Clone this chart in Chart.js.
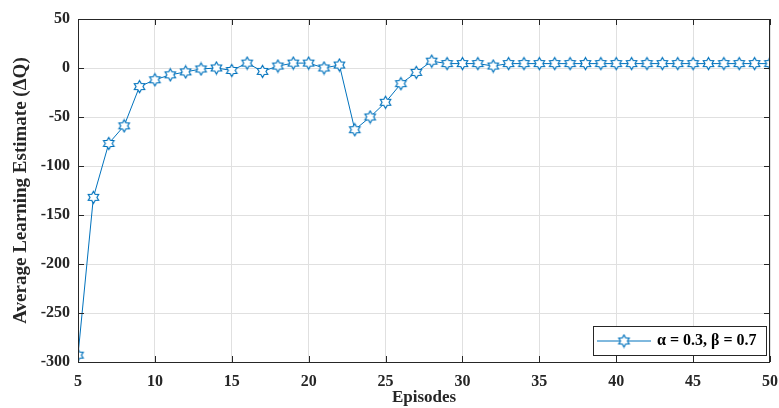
<!DOCTYPE html>
<html>
<head>
<meta charset="utf-8">
<script src="https://cdn.jsdelivr.net/npm/chart.js@4"></script>
<style>
  html, body { margin: 0; padding: 0; background: #fff; }
  #wrap { width: 779px; height: 408px; }
</style>
</head>
<body>
<div id="wrap"><canvas id="grafico"></canvas></div>
<script>
const episodios = [5, 6, 7, 8, 9, 10, 11, 12, 13, 14, 15, 16, 17, 18, 19, 20, 21, 22, 23, 24, 25, 26, 27,
    28, 29, 30, 31, 32, 33, 34, 35, 36, 37, 38, 39, 40, 41, 42, 43, 44, 45, 46, 47, 48, 49, 50];
const estimativa = [-293, -132, -77, -59, -19, -12, -7, -4, -1, 0, -2.5, 5, -3.5, 2, 5, 5, 0, 3, -63, -50, -35, -16, -4.5,
    7, 4.5, 4.5, 4.5, 2, 4.5, 4.5, 4.5, 4.5, 4.5, 4.5, 4.5, 4.5, 4.5, 4.5, 4.5, 4.5, 4.5, 4.5, 4.5, 4.5, 4.5, 4.5];
const xTicks = [5, 10, 15, 20, 25, 30, 35, 40, 45, 50];
const yTicks = [-300, -250, -200, -150, -100, -50, 0, 50];
const rotuloSerie = 'α = 0.3, β = 0.7';

const azul = '#0072BD';
const fonte = 'Liberation Serif, Times New Roman, serif';

// marcador estrela de seis pontas
function criarEstrela(raio) {
    const c = document.createElement('canvas');
    const s = Math.ceil(raio * 2 + 3);
    c.width = s; c.height = s;
    const g = c.getContext('2d');
    const r2 = raio / Math.sqrt(3);
    g.beginPath();
    for (let i = 0; i < 12; i++) {
        const ang = -Math.PI / 2 + i * Math.PI / 6;
        const r = i % 2 === 0 ? raio : r2;
        const px = s / 2 + r * Math.cos(ang);
        const py = s / 2 + r * Math.sin(ang);
        if (i === 0) g.moveTo(px, py); else g.lineTo(px, py);
    }
    g.closePath();
    g.fillStyle = '#fff';
    g.fill();
    g.lineWidth = 1.2;
    g.strokeStyle = azul;
    g.stroke();
    return c;
}
const estrela = criarEstrela(6);

const molduraPlugin = {
    id: 'moldura',
    afterDatasetsDraw(chart) {
        const ctx = chart.ctx;
        const a = chart.chartArea;
        const sx = chart.scales.x, sy = chart.scales.y;
        ctx.save();
        ctx.strokeStyle = '#262626';
        ctx.lineWidth = 1;
        ctx.strokeRect(a.left + 0.5, a.top + 0.5, a.right - a.left - 1, a.bottom - a.top);
        ctx.beginPath();
        xTicks.forEach(v => {
            const px = Math.round(sx.getPixelForValue(v)) + 0.5;
            ctx.moveTo(px, a.bottom); ctx.lineTo(px, a.bottom - 6);
            ctx.moveTo(px, a.top); ctx.lineTo(px, a.top + 6);
        });
        yTicks.forEach(v => {
            const py = Math.round(sy.getPixelForValue(v)) + 0.5;
            ctx.moveTo(a.left, py); ctx.lineTo(a.left + 6, py);
            ctx.moveTo(a.right, py); ctx.lineTo(a.right - 6, py);
        });
        ctx.stroke();

        // legenda
        const lx = a.right - 177, ly = a.bottom - 36, lw = 173, lh = 29;
        ctx.fillStyle = '#fff';
        ctx.fillRect(lx, ly, lw, lh);
        ctx.strokeStyle = '#262626';
        ctx.strokeRect(lx + 0.5, ly + 0.5, lw, lh);
        const cy = ly + lh / 2 + 0.5;
        ctx.strokeStyle = azul;
        ctx.beginPath();
        ctx.moveTo(lx + 4, cy); ctx.lineTo(lx + 58, cy);
        ctx.stroke();
        ctx.drawImage(estrela, lx + 31 - estrela.width / 2, cy - estrela.height / 2);
        ctx.fillStyle = '#000';
        ctx.font = 'bold 16px ' + fonte;
        ctx.textBaseline = 'middle';
        ctx.fillText(rotuloSerie, lx + 64, cy);
        ctx.restore();
    }
};

const ctx = document.getElementById('grafico').getContext('2d');
new Chart(ctx, {
    type: 'line',
    data: {
        datasets: [{
            label: rotuloSerie,
            data: episodios.map((e, i) => ({ x: e, y: estimativa[i] })),
            borderColor: azul,
            borderWidth: 1,
            pointStyle: estrela,
            pointRadius: 6,
            tension: 0
        }]
    },
    options: {
        responsive: true,
        maintainAspectRatio: false,
        animation: false,
        layout: { padding: { top: 19, right: 9, left: 0, bottom: 0 } },
        plugins: { legend: { display: false }, tooltip: { enabled: false } },
        scales: {
            x: {
                type: 'linear',
                min: 5, max: 50,
                afterBuildTicks: s => { s.ticks = xTicks.map(v => ({ value: v })); },
                afterFit: s => { s.height = 46; s.paddingLeft = 0; s.paddingRight = 0; },
                grid: { color: '#e0e0e0', drawTicks: false },
                border: { display: false },
                ticks: { color: '#262626', padding: 10, maxRotation: 0, font: { family: fonte, size: 16, weight: 'bold' } },
                title: { display: true, text: 'Episodes', color: '#262626', padding: 0, font: { family: fonte, size: 17, weight: 'bold' } }
            },
            y: {
                min: -300, max: 50,
                afterBuildTicks: s => { s.ticks = yTicks.map(v => ({ value: v })); },
                afterFit: s => { s.width = 78; },
                grid: { color: '#e0e0e0', drawTicks: false },
                border: { display: false },
                ticks: { color: '#262626', padding: 8, font: { family: fonte, size: 16, weight: 'bold' } },
                title: { display: true, text: 'Average Learning Estimate (ΔQ)', color: '#262626', padding: { top: 10, bottom: 0 }, font: { family: fonte, size: 19, weight: 'bold' } }
            }
        }
    },
    plugins: [molduraPlugin]
});
</script>
</body>
</html>
